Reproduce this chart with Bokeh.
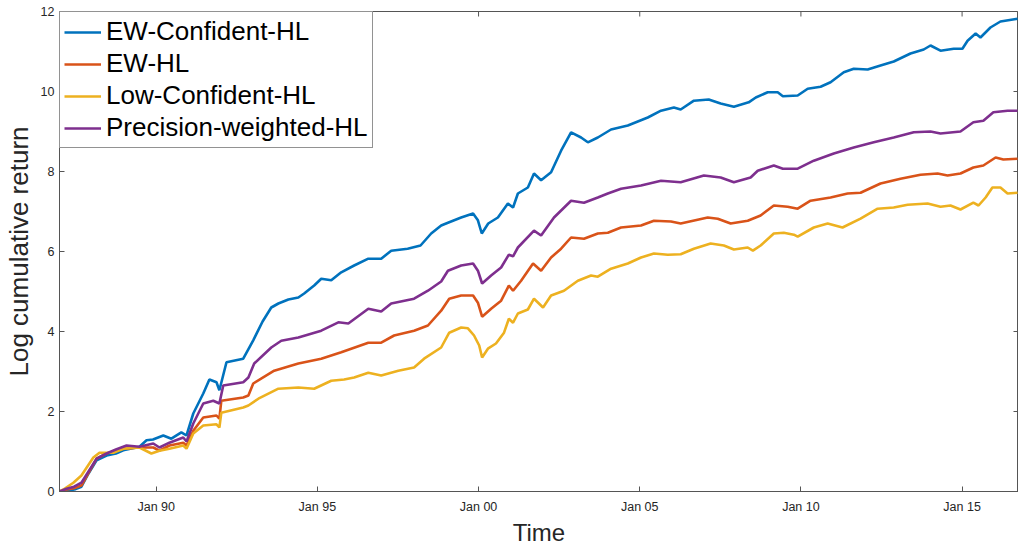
from bokeh.plotting import figure
from bokeh.models import FixedTicker, Range1d, Legend, LegendItem
from bokeh.embed import file_html
from bokeh.resources import INLINE

# ---- data (decimal years, log cumulative return) ----
series_names = ["EW-Confident-HL", "EW-HL", "Low-Confident-HL", "Precision-weighted-HL"]
series_colors = ["#0072BD", "#D95319", "#EDB120", "#7E2F8E"]

ew_conf_t = [1987.00, 1987.25, 1987.50, 1987.68, 1987.90, 1988.15, 1988.46, 1988.75, 1988.98, 1989.48,
             1989.70, 1989.90, 1990.22, 1990.47, 1990.78, 1990.94, 1991.15, 1991.46, 1991.65, 1991.87,
             1991.96, 1992.18, 1992.70, 1993.01, 1993.30, 1993.57, 1993.79, 1994.10, 1994.41, 1994.59,
             1994.90, 1995.12, 1995.43, 1995.74, 1996.14, 1996.58, 1996.98, 1997.29, 1997.80, 1998.20,
             1998.53, 1998.84, 1999.05, 1999.46, 1999.83, 1999.98, 2000.10, 2000.30, 2000.60, 2000.91,
             2001.07, 2001.22, 2001.53, 2001.72, 2001.94, 2002.25, 2002.56, 2002.87, 2003.18, 2003.39,
             2003.70, 2004.11, 2004.63, 2005.25, 2005.66, 2006.06, 2006.27, 2006.68, 2007.14, 2007.51,
             2007.92, 2008.38, 2008.60, 2008.97, 2009.28, 2009.44, 2009.90, 2010.21, 2010.61, 2010.92,
             2011.33, 2011.64, 2012.07, 2012.47, 2012.88, 2013.40, 2013.81, 2014.02, 2014.33, 2014.74,
             2015.01, 2015.17, 2015.42, 2015.57, 2015.88, 2016.19, 2016.72]
ew_conf_v = [0.00, 0.02, 0.06, 0.12, 0.45, 0.78, 0.90, 0.95, 1.03, 1.12,
             1.28, 1.30, 1.40, 1.32, 1.48, 1.40, 1.95, 2.45, 2.80, 2.73,
             2.53, 3.23, 3.32, 3.78, 4.25, 4.60, 4.70, 4.80, 4.85, 4.95,
             5.15, 5.32, 5.28, 5.48, 5.65, 5.82, 5.82, 6.02, 6.07, 6.15,
             6.45, 6.65, 6.72, 6.85, 6.95, 6.78, 6.45, 6.70, 6.85, 7.20,
             7.10, 7.45, 7.60, 7.95, 7.78, 7.98, 8.52, 8.98, 8.85, 8.73,
             8.85, 9.05, 9.15, 9.35, 9.52, 9.60, 9.55, 9.77, 9.80, 9.70,
             9.62, 9.73, 9.85, 9.98, 9.98, 9.88, 9.90, 10.07, 10.12, 10.23,
             10.48, 10.57, 10.55, 10.65, 10.75, 10.95, 11.05, 11.15, 11.02, 11.07,
             11.07, 11.27, 11.45, 11.35, 11.60, 11.75, 11.82]

ew_t = [1987.00, 1987.22, 1987.45, 1987.68, 1988.15, 1988.46, 1988.98, 1989.48, 1989.91, 1990.10,
        1990.41, 1990.84, 1990.94, 1991.15, 1991.46, 1991.87, 1991.96, 1992.02, 1992.70, 1992.86,
        1993.01, 1993.66, 1994.41, 1995.12, 1995.74, 1996.58, 1996.98, 1997.38, 1998.00, 1998.43,
        1998.84, 1999.09, 1999.46, 1999.83, 1999.98, 2000.11, 2000.39, 2000.70, 2000.94, 2001.07,
        2001.32, 2001.69, 2001.94, 2002.25, 2002.56, 2002.87, 2003.27, 2003.70, 2004.01, 2004.42,
        2005.04, 2005.44, 2005.97, 2006.27, 2007.11, 2007.42, 2007.82, 2008.35, 2008.75, 2009.16,
        2009.59, 2009.90, 2010.30, 2010.92, 2011.45, 2011.85, 2012.47, 2013.09, 2013.71, 2014.24,
        2014.55, 2014.95, 2015.35, 2015.66, 2016.04, 2016.28, 2016.72]
ew_v = [0.00, 0.05, 0.08, 0.15, 0.82, 0.95, 1.07, 1.10, 1.10, 1.02,
        1.15, 1.22, 1.15, 1.52, 1.85, 1.90, 1.82, 2.27, 2.35, 2.40,
        2.70, 3.02, 3.20, 3.32, 3.48, 3.72, 3.72, 3.90, 4.02, 4.15,
        4.52, 4.82, 4.90, 4.90, 4.72, 4.37, 4.57, 4.77, 5.15, 5.02,
        5.27, 5.70, 5.52, 5.85, 6.07, 6.35, 6.32, 6.45, 6.47, 6.60,
        6.65, 6.77, 6.75, 6.70, 6.85, 6.82, 6.70, 6.77, 6.90, 7.15,
        7.12, 7.07, 7.27, 7.35, 7.45, 7.47, 7.70, 7.82, 7.92, 7.95,
        7.90, 7.95, 8.10, 8.15, 8.35, 8.30, 8.32]

low_conf_t = [1987.00, 1987.12, 1987.43, 1987.68, 1988.05, 1988.24, 1988.67, 1988.98, 1989.48, 1989.85,
              1990.10, 1990.41, 1990.84, 1990.94, 1991.15, 1991.46, 1991.87, 1991.96, 1992.02, 1992.70,
              1992.86, 1993.17, 1993.79, 1994.41, 1994.90, 1995.43, 1995.83, 1996.14, 1996.58, 1996.98,
              1997.51, 1998.00, 1998.31, 1998.84, 1999.09, 1999.46, 1999.67, 1999.86, 2000.02, 2000.11,
              2000.29, 2000.54, 2000.79, 2000.94, 2001.07, 2001.22, 2001.53, 2001.72, 2002.00, 2002.25,
              2002.65, 2003.08, 2003.49, 2003.70, 2004.11, 2004.63, 2005.04, 2005.44, 2005.87, 2006.27,
              2006.68, 2007.20, 2007.61, 2007.92, 2008.35, 2008.51, 2008.75, 2009.16, 2009.47, 2009.78,
              2009.90, 2010.40, 2010.83, 2011.29, 2011.85, 2012.38, 2012.88, 2013.31, 2013.93, 2014.33,
              2014.64, 2014.95, 2015.35, 2015.51, 2015.73, 2015.94, 2016.19, 2016.41, 2016.72]
low_conf_v = [0.00, 0.05, 0.22, 0.40, 0.85, 0.97, 0.97, 1.07, 1.10, 0.95,
              1.02, 1.07, 1.15, 1.07, 1.45, 1.65, 1.68, 1.60, 1.97, 2.10,
              2.15, 2.32, 2.57, 2.60, 2.57, 2.77, 2.80, 2.85, 2.97, 2.90,
              3.02, 3.10, 3.32, 3.60, 3.97, 4.10, 4.08, 3.90, 3.65, 3.35,
              3.57, 3.70, 3.97, 4.32, 4.22, 4.45, 4.55, 4.82, 4.60, 4.90,
              5.02, 5.27, 5.40, 5.37, 5.57, 5.70, 5.85, 5.95, 5.92, 5.93,
              6.07, 6.20, 6.15, 6.05, 6.10, 6.02, 6.15, 6.45, 6.47, 6.42,
              6.37, 6.60, 6.70, 6.60, 6.82, 7.07, 7.10, 7.17, 7.20, 7.12,
              7.15, 7.05, 7.22, 7.15, 7.35, 7.60, 7.60, 7.45, 7.47]

prec_t = [1987.00, 1987.22, 1987.45, 1987.68, 1988.15, 1988.46, 1988.75, 1989.08, 1989.48, 1989.91,
          1990.10, 1990.41, 1990.84, 1990.94, 1991.15, 1991.46, 1991.77, 1991.96, 1992.08, 1992.70,
          1992.86, 1993.04, 1993.57, 1993.88, 1994.41, 1995.12, 1995.65, 1995.96, 1996.58, 1996.98,
          1997.29, 1998.00, 1998.43, 1998.84, 1999.05, 1999.46, 1999.83, 1999.98, 2000.11, 2000.39,
          2000.70, 2000.94, 2001.07, 2001.22, 2001.72, 2001.94, 2002.34, 2002.87, 2003.27, 2003.70,
          2004.01, 2004.42, 2005.04, 2005.66, 2006.27, 2006.99, 2007.51, 2007.92, 2008.44, 2008.66,
          2009.16, 2009.44, 2009.90, 2010.40, 2011.02, 2011.64, 2012.26, 2012.88, 2013.50, 2014.02,
          2014.33, 2014.95, 2015.35, 2015.66, 2015.97, 2016.41, 2016.72]
prec_v = [0.00, 0.07, 0.12, 0.22, 0.82, 0.95, 1.05, 1.15, 1.12, 1.20,
          1.10, 1.22, 1.35, 1.25, 1.70, 2.20, 2.27, 2.20, 2.65, 2.73,
          2.85, 3.20, 3.60, 3.77, 3.85, 4.02, 4.23, 4.20, 4.57, 4.50,
          4.70, 4.82, 5.02, 5.25, 5.52, 5.65, 5.70, 5.52, 5.20, 5.40,
          5.60, 5.92, 5.88, 6.10, 6.52, 6.40, 6.85, 7.27, 7.22, 7.35,
          7.45, 7.57, 7.65, 7.77, 7.73, 7.90, 7.85, 7.73, 7.85, 8.02,
          8.15, 8.07, 8.07, 8.27, 8.45, 8.60, 8.73, 8.85, 8.98, 9.00,
          8.95, 9.00, 9.23, 9.27, 9.48, 9.52, 9.52]

x_tick_values = [1990, 1995, 2000, 2005, 2010, 2015]
x_tick_labels = ["Jan 90", "Jan 95", "Jan 00", "Jan 05", "Jan 10", "Jan 15"]
y_tick_values = [0, 2, 4, 6, 8, 10, 12]
x_start, x_end = 1987.0, 2016.75
y_start, y_end = 0, 12

FONT = "Liberation Sans"
TXT = "#262626"
AXC = "#555555"

FRAME_W, FRAME_H = 960, 480
p = figure(width=1018, height=548, output_backend="svg", toolbar_location=None,
           x_range=Range1d(x_start, x_end), y_range=Range1d(y_start, y_end),
           min_border_left=58, min_border_right=0, min_border_top=11, min_border_bottom=57,
           background_fill_color="white", border_fill_color="white")
p.xgrid.visible = False
p.ygrid.visible = False
p.outline_line_color = AXC
p.outline_line_width = 1

p.xaxis.ticker = FixedTicker(ticks=x_tick_values)
p.xaxis.major_label_overrides = {v: l for v, l in zip(x_tick_values, x_tick_labels)}
p.yaxis.ticker = FixedTicker(ticks=y_tick_values)
for ax in (p.xaxis[0], p.yaxis[0]):
    ax.major_tick_in = 5
    ax.major_tick_out = 0
    ax.minor_tick_in = 0
    ax.minor_tick_out = 0
    ax.axis_line_color = AXC
    ax.major_tick_line_color = AXC
    ax.major_label_text_font = FONT
    ax.major_label_text_font_size = "12.5px"
    ax.major_label_text_color = TXT
    ax.axis_label_text_font = FONT
    ax.axis_label_text_font_style = "normal"
    ax.axis_label_text_color = TXT

p.xaxis.axis_label = "Time"
p.xaxis.axis_label_text_font_size = "24px"
p.xaxis.major_label_standoff = 8
p.xaxis.axis_label_standoff = 2
p.yaxis.axis_label = "Log cumulative return"
p.yaxis.axis_label_text_font_size = "26px"
p.yaxis.major_label_standoff = 5
p.yaxis.axis_label_standoff = 4

# box ticks on the top and right edges (MATLAB "box on"), 5 px long
tick_dy = 5 * (y_end - y_start) / FRAME_H
tick_dx = 5 * (x_end - x_start) / FRAME_W
p.segment(x0=x_tick_values, y0=[y_end] * len(x_tick_values),
          x1=x_tick_values, y1=[y_end - tick_dy] * len(x_tick_values),
          line_color=AXC, line_width=1)
p.segment(x0=[x_end] * len(y_tick_values), y0=y_tick_values,
          x1=[x_end - tick_dx] * len(y_tick_values), y1=y_tick_values,
          line_color=AXC, line_width=1)

all_t = [ew_conf_t, ew_t, low_conf_t, prec_t]
all_v = [ew_conf_v, ew_v, low_conf_v, prec_v]
items = []
for name, col, t, v in zip(series_names, series_colors, all_t, all_v):
    r = p.line(t, v, line_color=col, line_width=2.6)
    items.append(LegendItem(label=name, renderers=[r]))

legend = Legend(items=items, location="top_left", margin=0, padding=4, spacing=1,
                glyph_width=37, glyph_height=20, label_standoff=5,
                label_text_font=FONT, label_text_font_size="26px", label_text_color="black",
                border_line_color="#262626", border_line_width=1,
                background_fill_color="white", background_fill_alpha=1.0)
p.add_layout(legend, "center")

open("out.html", "w").write(file_html(p, INLINE))
